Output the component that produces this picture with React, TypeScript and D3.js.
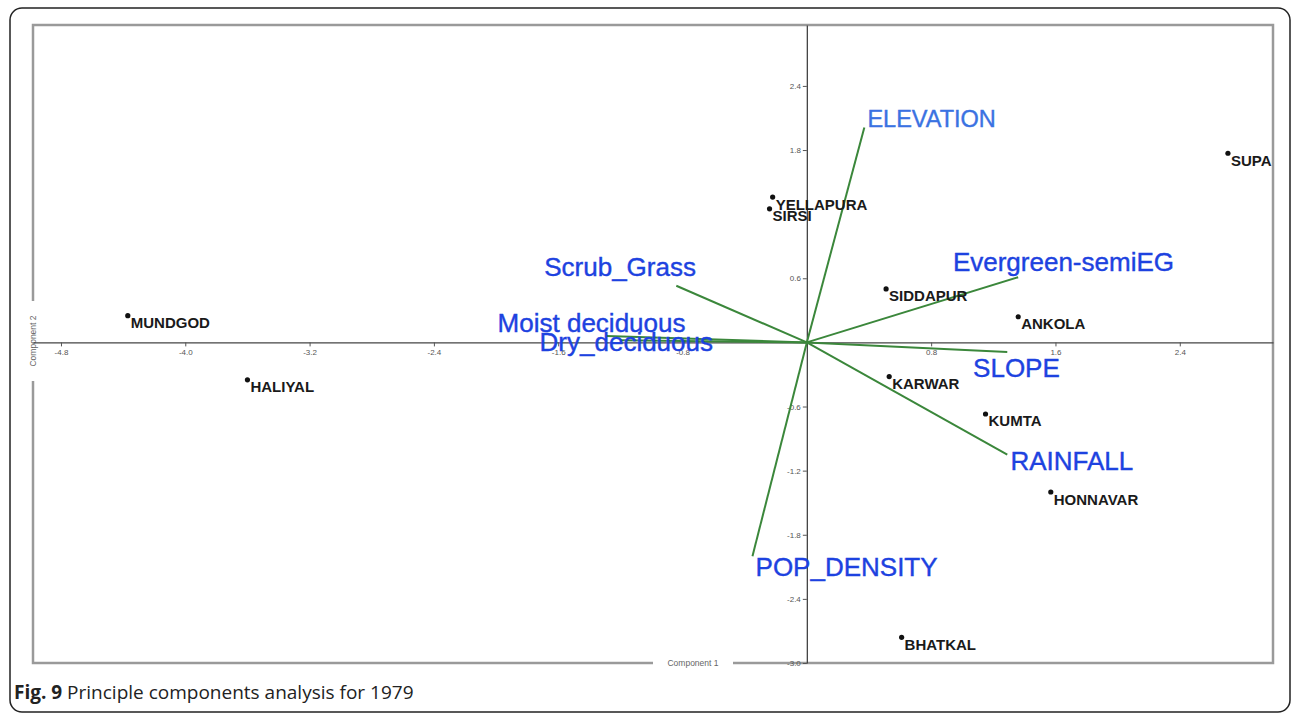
import { useEffect, useRef } from "react";
import * as d3 from "d3";

const WIDTH = 1292;
const HEIGHT = 713;
const FRAME = { left: 33, top: 25, right: 1273, bottom: 663 };

const X_DOMAIN = [-4.98, 3.0];
const Y_DOMAIN = [-3.0, 2.97];
const X_TICKS = [-4.8, -4.0, -3.2, -2.4, -1.6, -0.8, 0.8, 1.6, 2.4];
// 1.2 is hidden behind the SIRSI label in the original
const Y_TICKS = [2.4, 1.8, 0.6, -0.6, -1.2, -1.8, -2.4, -3.0];

// site scores (component 1, component 2)
const SITES = ["MUNDGOD", "HALIYAL", "YELLAPURA", "SIRSI", "SIDDAPUR", "ANKOLA", "KARWAR", "KUMTA", "HONNAVAR", "BHATKAL", "SUPA"];
const SITE_PC1 = [-4.37, -3.6, -0.22, -0.24, 0.51, 1.36, 0.53, 1.15, 1.57, 0.61, 2.71];
const SITE_PC2 = [0.25, -0.35, 1.36, 1.25, 0.5, 0.24, -0.32, -0.67, -1.4, -2.76, 1.77];

// variable loadings (arrow tips)
const VARIABLES = ["ELEVATION", "Evergreen-semiEG", "Scrub_Grass", "Moist deciduous", "Dry_deciduous", "SLOPE", "RAINFALL", "POP_DENSITY"];
const LOAD_PC1 = [0.37, 1.36, -0.84, -1.29, -1.2, 1.29, 1.29, -0.35];
const LOAD_PC2 = [2.01, 0.61, 0.53, 0.06, 0.02, -0.09, -1.05, -2.0];
// where each variable's name was printed, same units
const LABEL_PC1 = [0.39, 0.94, -1.69, -1.99, -1.72, 1.07, 1.31, -0.33];
const LABEL_PC2 = [2.02, 0.67, 0.62, 0.1, -0.08, -0.32, -1.19, -2.19];

const xScale = d3.scaleLinear().domain(X_DOMAIN).range([FRAME.left, FRAME.right]);
const yScale = d3.scaleLinear().domain(Y_DOMAIN).range([FRAME.bottom, FRAME.top]);

const fmt = (d) => (+d).toFixed(1);
const FONT = "Liberation Sans, Arial, sans-serif";

const App = () => {
  const axesRef = useRef(null);

  useEffect(() => {
    const g = d3.select(axesRef.current);
    g.selectAll("*").remove();

    const xAxis = d3.axisBottom(xScale).tickValues(X_TICKS).tickSize(4).tickSizeOuter(0).tickPadding(3).tickFormat(fmt);
    g.append("g").attr("transform", `translate(0,${yScale(0)})`).call(xAxis);

    const yAxis = d3.axisLeft(yScale).tickValues(Y_TICKS).tickSize(4).tickSizeOuter(0).tickPadding(2).tickFormat(fmt);
    g.append("g").attr("transform", `translate(${xScale(0)},0)`).call(yAxis);

    g.selectAll(".domain").attr("stroke", "#444").attr("stroke-width", 1.3);
    g.selectAll(".tick line").attr("stroke", "#555");
    g.selectAll(".tick text").attr("fill", "#555").attr("font-size", 8).attr("font-family", FONT);
  }, []);

  return (
    <svg width={WIDTH} height={HEIGHT} style={{ position: "absolute", left: 0, top: 0, background: "#fff" }}>
      <rect x={10} y={8} width={1280} height={704} rx={12} fill="none" stroke="#222" strokeWidth={1.5} />

      <rect
        x={FRAME.left}
        y={FRAME.top}
        width={FRAME.right - FRAME.left}
        height={FRAME.bottom - FRAME.top}
        fill="none"
        stroke="#9a9a9a"
        strokeWidth={2.5}
      />
      {/* axis titles sit in gaps of the frame */}
      <rect x={653} y={FRAME.bottom - 4} width={80} height={8} fill="#fff" />
      <text x={693} y={FRAME.bottom + 3} textAnchor="middle" fontSize={8.5} fill="#666" fontFamily={FONT}>
        Component 1
      </text>
      <rect x={FRAME.left - 4} y={301} width={8} height={80} fill="#fff" />
      <text
        transform={`translate(${FRAME.left + 3},${341}) rotate(-90)`}
        textAnchor="middle"
        fontSize={8.5}
        fill="#666"
        fontFamily={FONT}
      >
        Component 2
      </text>

      <g ref={axesRef} />

      <g>
        {VARIABLES.map((v, i) => (
          <line
            key={v}
            x1={xScale(0)}
            y1={yScale(0)}
            x2={xScale(LOAD_PC1[i])}
            y2={yScale(LOAD_PC2[i])}
            stroke="#3b873b"
            strokeWidth={2}
          />
        ))}
      </g>

      <g fontFamily={FONT}>
        {SITES.map((s, i) => (
          <g key={s}>
            <circle cx={xScale(SITE_PC1[i])} cy={yScale(SITE_PC2[i])} r={2.6} fill="#111" />
            <text x={xScale(SITE_PC1[i]) + 3} y={yScale(SITE_PC2[i]) + 12.5} fontSize={15} fontWeight="bold" fill="#1a1a1a">
              {s}
            </text>
          </g>
        ))}
      </g>

      <g fontFamily={FONT}>
        {VARIABLES.map((v, i) => {
          const col = v === "ELEVATION" ? "#3a72e2" : "#1d42e0";
          return (
            <text
              key={v}
              x={xScale(LABEL_PC1[i])}
              y={yScale(LABEL_PC2[i])}
              fontSize={v === "ELEVATION" ? 23.5 : 26}
              fill={col}
              stroke={col}
              strokeWidth={0.4}
            >
              {v}
            </text>
          );
        })}
      </g>

      <text x={14} y={699} fontSize={19} fill="#222" fontFamily="Open Sans, sans-serif">
        <tspan fontWeight="bold">Fig. 9</tspan> Principle components analysis for 1979
      </text>
    </svg>
  );
};

export default App;
